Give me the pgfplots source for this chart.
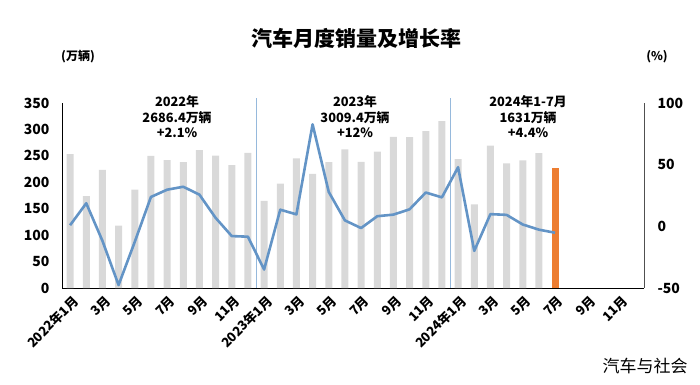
\documentclass[border=0pt]{standalone}
\usepackage{pgfplots}
\pgfplotsset{compat=1.18}
\usepackage{fontspec}
\setmainfont{Noto Sans CJK SC}
\definecolor{bargray}{RGB}{217,217,217}
\definecolor{barorange}{RGB}{237,125,49}
\definecolor{lineblue}{RGB}{99,148,198}
\definecolor{seplight}{RGB}{150,185,220}
\definecolor{axgray}{RGB}{80,80,80}
\begin{document}
\begin{tikzpicture}
\path[use as bounding box] (0pt,0pt) rectangle (700pt,384pt);
\begin{axis}[
  at={(62pt,96pt)}, anchor=south west, scale only axis,
  width=582pt, height=185pt,
  xmin=-0.5, xmax=35.5, ymin=0, ymax=350,
  axis y line*=left, axis x line*=bottom,
  ytick={0,50,...,350},
  xtick={0,2,...,34},
  xticklabels={2022年1月,3月,5月,7月,9月,11月,2023年1月,3月,5月,7月,9月,11月,2024年1月,3月,5月,7月,9月,11月},
  x tick label style={rotate=45, anchor=north east, font=\bfseries\fontsize{13}{15}\selectfont, yshift=-2pt},
  y tick label style={font=\bfseries\fontsize{14}{16}\selectfont, xshift=-9pt},
  major tick length=0pt,
  /pgf/number format/assume math mode=true,
  axis line style={black, line width=0.9pt},
  clip=false,
]
\addplot[ybar, bar width=7pt, bar shift=0pt, fill=bargray, draw=none] coordinates {
(0,253.1) (1,173.7) (2,223.4) (3,118.1) (4,186.2) (5,250.2) (6,242.0) (7,238.3) (8,261.0) (9,250.6) (10,232.7) (11,255.6)
(12,164.9) (13,197.6) (14,245.1) (15,215.9) (16,238.2) (17,262.2) (18,238.7) (19,258.2) (20,285.8) (21,285.3) (22,297.0) (23,315.6)
(24,243.9) (25,158.4) (26,269.4) (27,235.9) (28,241.7) (29,255.3)
};
\addplot[ybar, bar width=7pt, bar shift=0pt, fill=barorange, draw=none] coordinates {(30,226.2)};
\addplot[seplight, line width=0.8pt, mark=none] coordinates {(11.5,0) (11.5,359)};
\addplot[seplight, line width=0.8pt, mark=none] coordinates {(23.5,0) (23.5,359)};
\end{axis}
\begin{axis}[
  at={(62pt,96pt)}, anchor=south west, scale only axis,
  width=582pt, height=185pt,
  xmin=-0.5, xmax=35.5, ymin=-50, ymax=100,
  axis y line*=right, axis x line=none,
  ytick={-50,0,50,100},
  y tick label style={font=\bfseries\fontsize{14}{16}\selectfont, xshift=10pt},
  major tick length=0pt,
  /pgf/number format/assume math mode=true,
  axis line style={axgray, line width=0.9pt},
  clip=false,
]
\addplot[lineblue, line width=2.6pt, mark=none, line join=round] coordinates {
(0,0.9) (1,18.7) (2,-11.7) (3,-47.6) (4,-12.6) (5,23.8) (6,29.7) (7,32.1) (8,25.7) (9,6.9) (10,-7.9) (11,-8.4)
(12,-35.0) (13,13.5) (14,9.7) (15,82.7) (16,27.9) (17,4.8) (18,-1.4) (19,8.2) (20,9.5) (21,13.8) (22,27.4) (23,23.5)
(24,47.9) (25,-19.9) (26,9.9) (27,9.3) (28,1.5) (29,-2.7) (30,-5.2)
};
\end{axis}
\node[font=\bfseries\fontsize{21}{24}\selectfont] at (356pt,346pt) {汽车月度销量及增长率};
\node[font=\bfseries\fontsize{12}{14}\selectfont] at (78pt,327pt) {(万辆)};
\node[font=\bfseries\fontsize{12}{14}\selectfont] at (657pt,327pt) {(\%)};
\node[font=\bfseries\fontsize{12.8}{15.5}\selectfont, align=center] at (177pt,267pt) {2022年\\2686.4万辆\\+2.1\%};
\node[font=\bfseries\fontsize{12.8}{15.5}\selectfont, align=center] at (355pt,267pt) {2023年\\3009.4万辆\\+12\%};
\node[font=\bfseries\fontsize{12.8}{15.5}\selectfont, align=center] at (528pt,267pt) {2024年1-7月\\1631万辆\\+4.4\%};
\node[font=\fontsize{17}{19}\selectfont] at (645pt,18pt) {汽车与社会};
\end{tikzpicture}
\end{document}
